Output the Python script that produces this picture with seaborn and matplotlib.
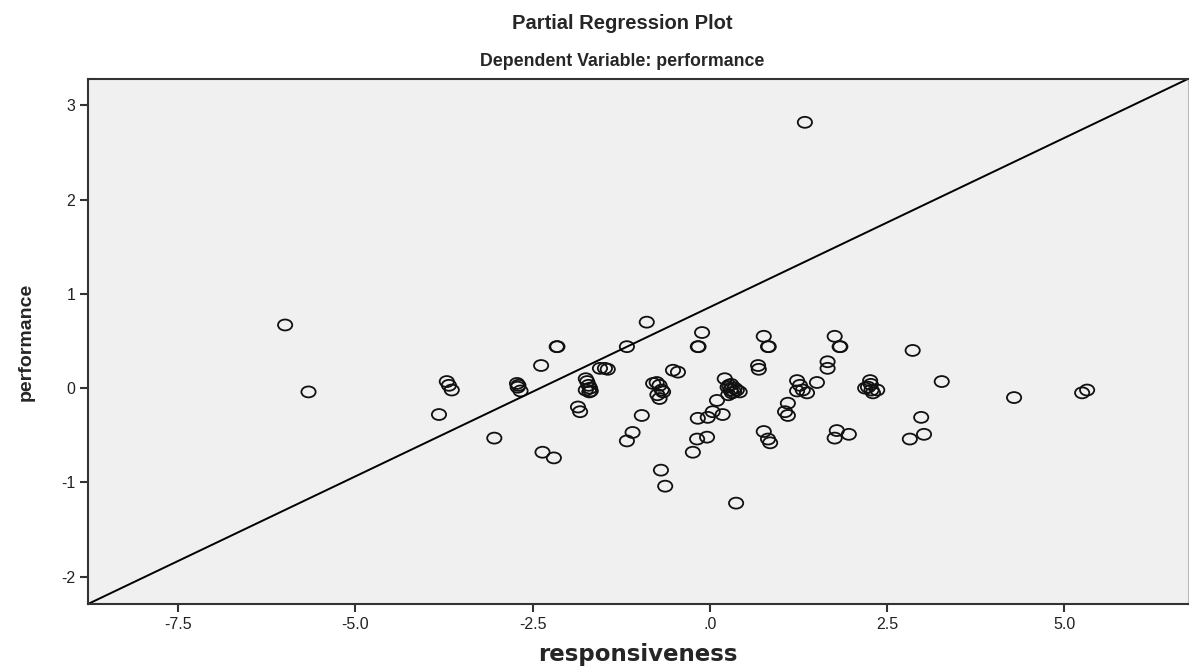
import numpy as np
import pandas as pd
import matplotlib
matplotlib.use('Agg')
import matplotlib.pyplot as plt
from matplotlib.path import Path
from matplotlib.transforms import Affine2D
import seaborn as sns

# partial residuals
responsiveness = [
    1.34, -5.99, -5.66,
    -3.71, -3.68, -3.64, -3.82, -3.04,
    -2.72, -2.71, -2.67, -2.70, -2.38, -2.36, -2.20, -2.16, -2.15,
    -1.86, -1.83, -1.75, -1.73, -1.71, -1.69, -1.68, -1.75, -1.70,
    -1.55, -1.48, -1.44, -1.17, -1.09, -1.17, -0.96, -0.89,
    -0.80, -0.75, -0.71, -0.68, -0.66, -0.74, -0.71, -0.69, -0.63,
    -0.52, -0.45, -0.24, -0.18, -0.04, -0.17, -0.17, -0.16, -0.11,
    -0.03, 0.04, 0.10, 0.18,
    0.21, 0.25, 0.29, 0.34, 0.42, 0.26, 0.30, 0.35, 0.38, 0.31, 0.27,
    0.37, 0.68, 0.69, 0.76, 0.82, 0.83, 0.76, 0.82, 0.85,
    1.10, 1.06, 1.10, 1.23, 1.27, 1.31, 1.37, 1.23, 1.51,
    1.76, 1.83, 1.84, 1.66, 1.66, 1.79, 1.76, 1.96,
    2.26, 2.23, 2.28, 2.30, 2.19, 2.36, 2.27,
    2.86, 3.27, 2.98, 3.02, 2.82, 4.29, 5.25, 5.32,
]
performance = [
    2.82, 0.67, -0.04,
    0.07, 0.03, -0.02, -0.28, -0.53,
    0.05, 0.01, -0.03, 0.03, 0.24, -0.68, -0.74, 0.44, 0.44,
    -0.20, -0.25, 0.10, 0.07, 0.03, 0.00, -0.03, -0.02, -0.04,
    0.21, 0.21, 0.20, 0.44, -0.47, -0.56, -0.29, 0.70,
    0.05, 0.06, 0.03, -0.02, -0.04, -0.07, -0.11, -0.87, -1.04,
    0.19, 0.17, -0.68, -0.54, -0.52, -0.32, 0.44, 0.44, 0.59,
    -0.31, -0.25, -0.13, -0.28,
    0.10, 0.01, -0.02, -0.04, -0.04, -0.07, 0.04, 0.00, -0.02, -0.05, 0.03,
    -1.22, 0.24, 0.20, 0.55, 0.44, 0.44, -0.46, -0.54, -0.58,
    -0.16, -0.25, -0.29, 0.08, 0.03, -0.02, -0.05, -0.03, 0.06,
    0.55, 0.44, 0.44, 0.28, 0.21, -0.45, -0.53, -0.49,
    0.08, 0.01, -0.02, -0.05, 0.00, -0.02, 0.04,
    0.40, 0.07, -0.31, -0.49, -0.54, -0.10, -0.05, -0.02,
]

x_ticks = [-7.5, -5.0, -2.5, 0.0, 2.5, 5.0]
x_tick_labels = ['-7.5', '-5.0', '-2.5', '.0', '2.5', '5.0']
y_ticks = [3, 2, 1, 0, -1, -2]
y_tick_labels = ['3', '2', '1', '0', '-1', '-2']
x_limits = [-8.77, 6.74]
y_limits = [-2.29, 3.28]

df = pd.DataFrame({'responsiveness': responsiveness, 'performance': performance})

sns.set_style('white')
plt.rcParams['font.family'] = ['Liberation Sans', 'DejaVu Sans']

fig = plt.figure(figsize=(11.89, 6.68), dpi=100)
ax = fig.add_axes([0.074, 0.0958, 0.925, 0.786])
ax.set_facecolor('#f0f0f0')

# SPSS circles come out a bit wider than tall
oval = Path.unit_circle().transformed(Affine2D().scale(1.3, 1.0))

sns.scatterplot(data=df, x='responsiveness', y='performance', ax=ax,
                marker=oval, s=105, facecolor='none', edgecolor='#111111',
                linewidth=1.3, legend=False)

# reference line corner to corner
ax.plot(x_limits, y_limits, color='black', linewidth=1.4)

ax.set_xlim(x_limits)
ax.set_ylim(y_limits)
ax.set_xticks(x_ticks)
ax.set_xticklabels(x_tick_labels)
ax.set_yticks(y_ticks)
ax.set_yticklabels(y_tick_labels)
ax.tick_params(axis='both', direction='out', length=6, width=1.5,
               bottom=True, left=True,
               color='#333333', labelsize=11.5, labelcolor='#222222', pad=3)

for side in ['left', 'bottom', 'top']:
    ax.spines[side].set_color('#333333')
    ax.spines[side].set_linewidth(1.5)
ax.spines['right'].set_color('#bbbbbb')

ax.set_xlabel('responsiveness', fontsize=16.5, fontweight='bold', labelpad=8,
              family=['DejaVu Sans'])
ax.set_ylabel('performance', fontsize=14, fontweight='bold', labelpad=19)

fig.text(0.523, 0.965, 'Partial Regression Plot', ha='center', va='center',
         fontsize=14.5, fontweight='bold')
fig.text(0.523, 0.908, 'Dependent Variable: performance', ha='center', va='center',
         fontsize=12.8, fontweight='bold')

fig.savefig('out.png', dpi=100)
